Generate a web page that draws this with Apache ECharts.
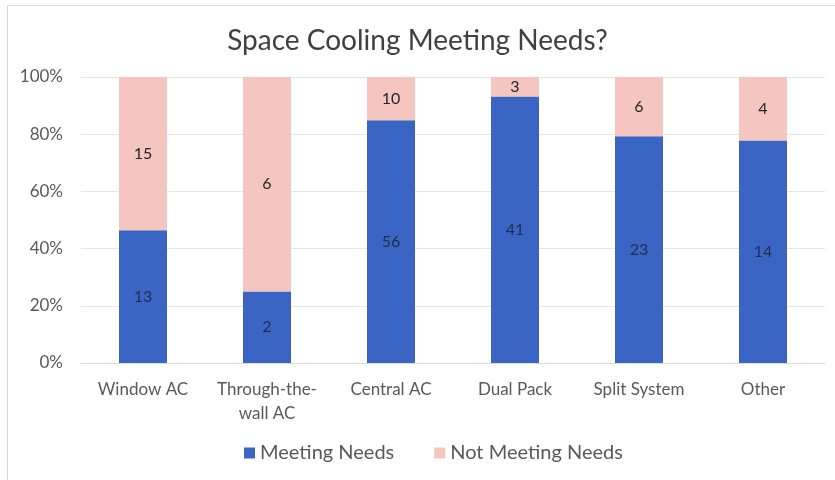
<!DOCTYPE html>
<html>
<head>
<meta charset="utf-8">
<script src="https://cdn.jsdelivr.net/npm/echarts@6/dist/echarts.min.js"></script>
<style>
    html, body { margin: 0; padding: 0; background: #fff; }
    #frame {
        position: absolute;
        left: 7px; top: 5px; width: 840px; height: 490px;
        border: 1px solid #d9d9d9;
        box-sizing: border-box;
    }
    #chart { position: absolute; left: 0; top: 0; width: 835px; height: 480px; }
</style>
</head>
<body>
<div id="frame"></div>
<div id="chart"></div>
<script>
    var categories = ['Window AC', 'Through-the-wall AC', 'Central AC', 'Dual Pack', 'Split System', 'Other'];
    var meetingNeeds = [13, 2, 56, 41, 23, 14];
    var notMeetingNeeds = [15, 6, 10, 3, 6, 4];
    var yTicks = ['0%', '20%', '40%', '60%', '80%', '100%'];

    var font = 'Lato, "Noto Sans", sans-serif';

    // 100% stack: bar height is share, label is the raw count
    function shares(a, b) {
        return a.map(function (v, i) {
            return { value: v / (a[i] + b[i]) * 100, count: v };
        });
    }

    var option = {
        animation: false,
        title: {
            text: 'Space Cooling Meeting Needs?',
            left: 'center',
            top: 22,
            textStyle: { color: '#404040', fontSize: 28, fontWeight: 'normal', fontFamily: font }
        },
        legend: {
            bottom: 12,
            left: 239,
            itemWidth: 11,
            itemHeight: 11,
            itemGap: 40,
            icon: 'rect',
            textStyle: { color: '#595959', fontSize: 20, fontFamily: font },
            data: ['Meeting Needs', 'Not Meeting Needs']
        },
        grid: { left: 81, right: 10, top: 77, bottom: 117 },
        xAxis: {
            type: 'category',
            data: categories,
            axisTick: { show: false },
            axisLine: { lineStyle: { color: '#d9d9d9' } },
            axisLabel: {
                interval: 0,
                color: '#595959',
                fontSize: 17,
                fontFamily: font,
                margin: 15,
                lineHeight: 24,
                formatter: function (v) {
                    return v === 'Through-the-wall AC' ? 'Through-the-\nwall AC' : v;
                }
            }
        },
        yAxis: {
            type: 'value',
            min: 0,
            max: 100,
            interval: 20,
            axisLabel: {
                color: '#595959',
                fontSize: 17,
                fontFamily: font,
                margin: 18,
                formatter: function (v) { return yTicks[v / 20]; }
            },
            splitLine: { lineStyle: { color: '#e6e6e6' } }
        },
        series: [
            {
                name: 'Meeting Needs',
                type: 'bar',
                stack: 'total',
                barWidth: 48,
                itemStyle: { color: '#3b65c5' },
                label: {
                    show: true,
                    position: 'inside',
                    color: '#1f2d4d',
                    fontSize: 16,
                    fontFamily: font,
                    formatter: function (p) { return p.data.count; }
                },
                data: shares(meetingNeeds, notMeetingNeeds)
            },
            {
                name: 'Not Meeting Needs',
                type: 'bar',
                stack: 'total',
                barWidth: 48,
                itemStyle: { color: '#f5c5c0' },
                label: {
                    show: true,
                    position: 'inside',
                    color: '#262626',
                    fontSize: 16,
                    fontFamily: font,
                    formatter: function (p) { return p.data.count; }
                },
                data: shares(notMeetingNeeds, meetingNeeds)
            }
        ]
    };

    var chart = echarts.init(document.getElementById('chart'));
    chart.setOption(option);
</script>
</body>
</html>
